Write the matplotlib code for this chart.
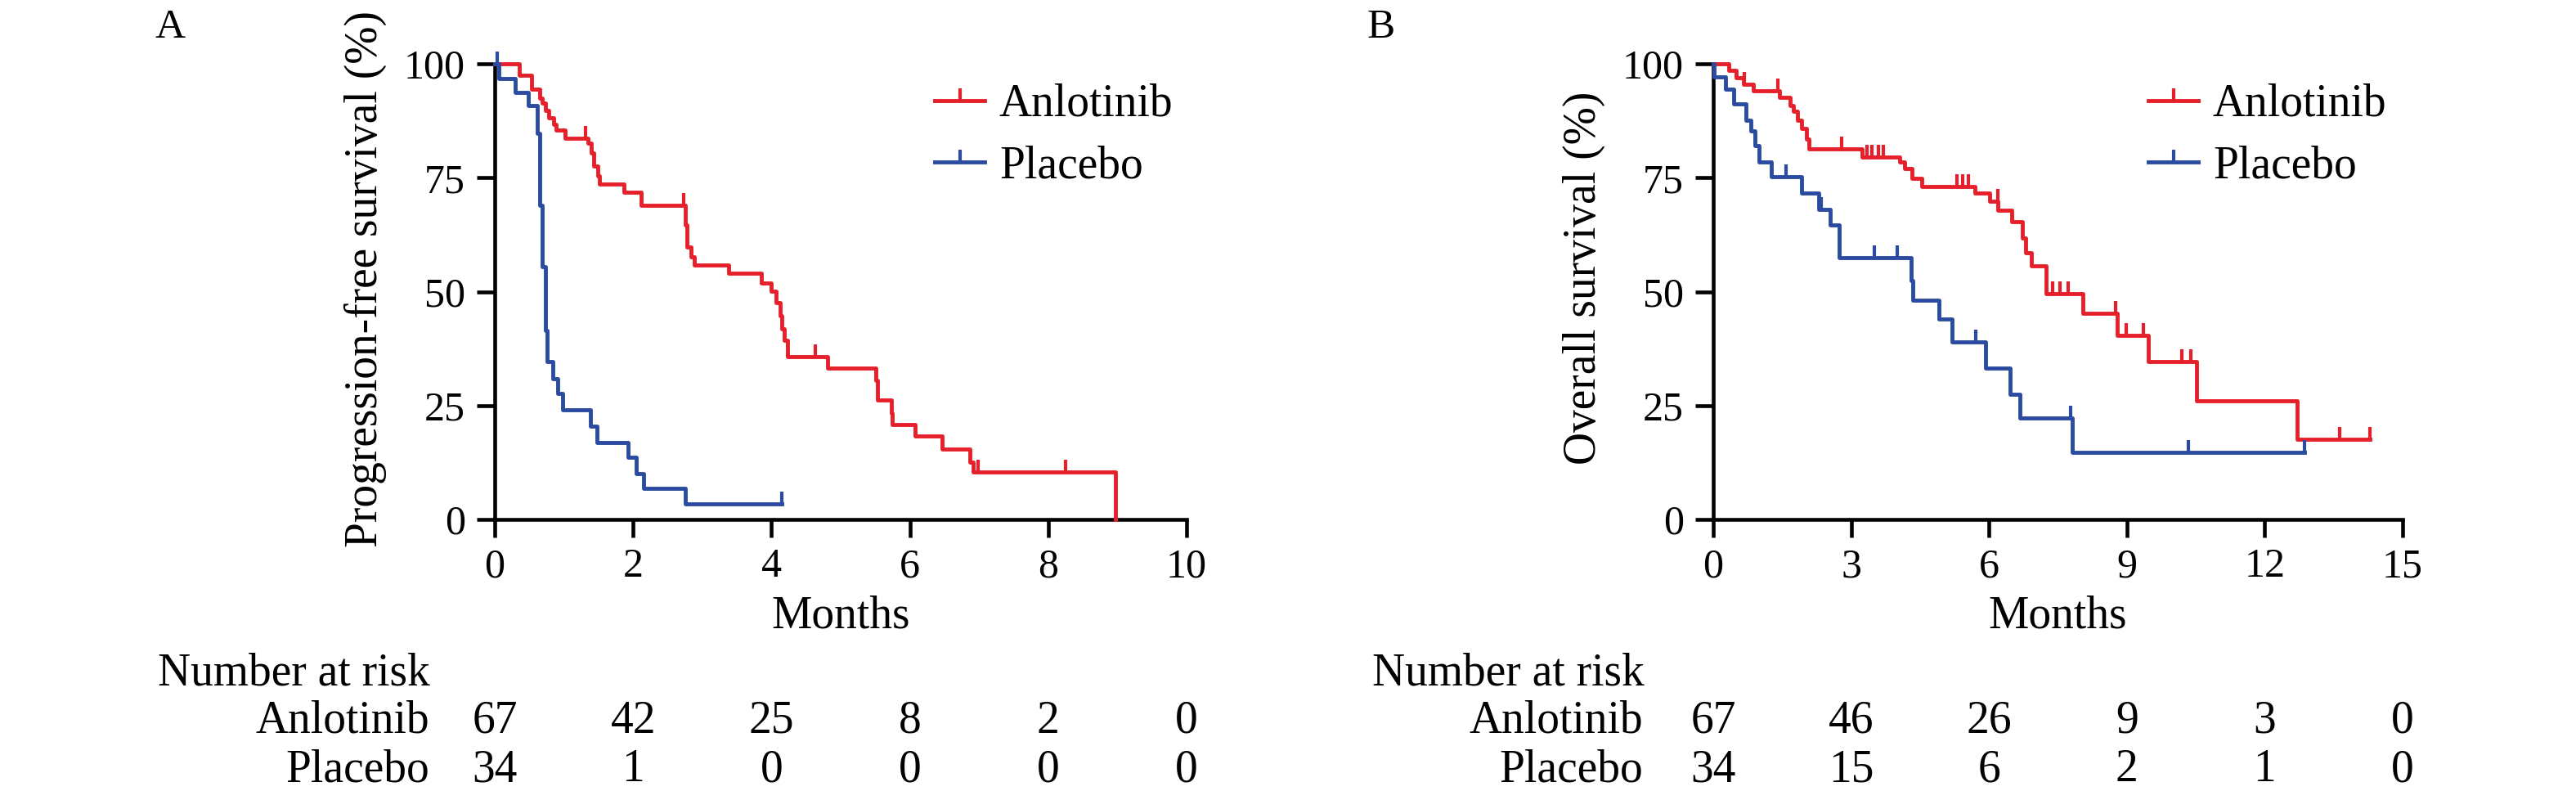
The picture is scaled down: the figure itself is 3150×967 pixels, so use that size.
import matplotlib.pyplot as plt
import matplotlib.transforms as mtransforms

plt.rcParams['font.family'] = ['Liberation Serif', 'DejaVu Serif']

red = "#E5202A"
blue = "#2A4BA0"

# ---- panel A : progression-free survival ----
pfs_anl_t = [0, 0.36, 0.53, 0.65, 0.68, 0.73, 0.78, 0.85, 0.89, 1.02, 1.35, 1.40, 1.43,
             1.49, 1.51, 1.87, 2.11, 2.75, 2.78, 2.84, 2.89, 3.38, 3.85, 4.00, 4.07, 4.12,
             4.15, 4.18, 4.23, 4.81, 5.51, 5.53, 5.73, 5.75, 6.07, 6.47, 6.87, 6.91, 8.97]
pfs_anl_s = [100, 97.5, 94.5, 92.5, 91.4, 89.7, 88.2, 86.8, 85.4, 83.6, 82.5, 80.4, 77.5,
             75.4, 73.6, 71.8, 69.0, 64.7, 59.7, 57.6, 55.8, 54.0, 51.9, 50.1, 47.6, 44.7,
             41.9, 39.4, 35.8, 33.3, 30.5, 26.2, 23.3, 20.8, 18.3, 15.5, 12.6, 10.5, 0]
pfs_anl_cens_t = [1.31, 2.73, 4.63, 6.98, 8.25]
pfs_anl_cens_s = [83.6, 69.0, 35.8, 10.5, 10.5]

pfs_pla_t = [0, 0.06, 0.29, 0.49, 0.62, 0.65, 0.69, 0.73, 0.76, 0.84, 0.91, 0.98,
             1.38, 1.48, 1.93, 2.05, 2.15, 2.76, 4.15]
pfs_pla_s = [100, 96.8, 93.7, 90.9, 84.7, 69.0, 55.4, 41.5, 34.7, 30.8, 27.6, 24.0,
             20.5, 16.9, 13.7, 10.1, 6.9, 3.4, 3.4]
pfs_pla_cens_t = [0.03, 4.15]
pfs_pla_cens_s = [100, 3.4]

# ---- panel B : overall survival ----
os_anl_t = [0, 0.33, 0.49, 0.66, 0.88, 1.45, 1.68, 1.75, 1.84, 1.92, 2.03, 2.08, 3.23,
            4.05, 4.16, 4.33, 4.54, 5.69, 6.02, 6.19, 6.49, 6.73, 6.79, 6.92, 7.25, 8.05,
            8.79, 9.47, 10.51, 12.70, 14.29]
os_anl_s = [100, 98.5, 97.0, 95.5, 94.1, 92.7, 90.9, 89.5, 87.7, 85.9, 83.4, 81.3, 79.5,
            78.4, 77.0, 74.9, 73.1, 71.7, 69.9, 67.8, 65.3, 61.7, 58.5, 55.7, 49.6, 45.3,
            40.4, 34.7, 26.1, 17.6, 17.6]
os_anl_cens_t = [0.68, 1.40, 2.79, 3.34, 3.45, 3.59, 3.70, 5.31, 5.42, 5.55, 6.19,
                 7.39, 7.55, 7.72, 8.76, 8.98, 9.36, 10.2, 10.4, 13.63, 14.29]
os_anl_cens_s = [95.5, 94.1, 81.3, 79.5, 79.5, 79.5, 79.5, 73.1, 73.1, 73.1, 69.9,
                 49.6, 49.6, 49.6, 45.3, 40.4, 40.4, 34.7, 34.7, 17.6, 17.6]

os_pla_t = [0, 0.02, 0.27, 0.44, 0.71, 0.82, 0.90, 0.99, 1.26, 1.92, 2.30, 2.54, 2.74,
            4.30, 4.35, 4.91, 5.20, 5.93, 6.46, 6.68, 7.81, 12.87]
os_pla_s = [100, 97.1, 94.4, 91.2, 87.7, 85.2, 82.0, 78.4, 75.2, 71.7, 68.1, 64.6, 57.4,
            52.5, 48.2, 43.9, 38.9, 33.2, 27.5, 22.2, 14.7, 14.7]
os_pla_cens_t = [1.59, 2.35, 3.50, 4.00, 5.72, 7.77, 10.33, 12.87]
os_pla_cens_s = [75.2, 68.1, 57.4, 57.4, 38.9, 22.2, 14.7, 14.7]

# number at risk tables
risk_t_A = [0, 2, 4, 6, 8, 10]
risk_anl_A = [67, 42, 25, 8, 2, 0]
risk_pla_A = [34, 1, 0, 0, 0, 0]
risk_t_B = [0, 3, 6, 9, 12, 15]
risk_anl_B = [67, 46, 26, 9, 3, 0]
risk_pla_B = [34, 15, 6, 2, 1, 0]

W, H = 3150, 967
fig = plt.figure(figsize=(W / 100, H / 100), dpi=100)

tick_up = [(0, 0), (0, 1)]  # censor mark pointing up
lw = 3.5


def km_panel(ax, a_t, a_s, a_ct, a_cs, p_t, p_s, p_ct, p_cs, xmax, xstep, ylab):
    ax.step(a_t, a_s, where="post", color=red, lw=lw, clip_on=False, zorder=3)
    ax.step(p_t, p_s, where="post", color=blue, lw=lw, clip_on=False, zorder=3)
    ax.plot(a_ct, a_cs, ls="none", marker=tick_up, ms=22, mew=3, color=red, clip_on=False, zorder=3)
    ax.plot(p_ct, p_cs, ls="none", marker=tick_up, ms=22, mew=3, color=blue, clip_on=False, zorder=3)
    # legend handles
    ax.plot([], [], color=red, lw=lw, marker=tick_up, ms=22, mew=3, label="Anlotinib")
    ax.plot([], [], color=blue, lw=lw, marker=tick_up, ms=22, mew=3, label="Placebo")
    ax.set_xlim(0, xmax)
    ax.set_ylim(0, 100)
    ax.set_xticks(range(0, xmax + 1, xstep))
    ax.set_yticks([0, 25, 50, 75, 100])
    for s in ["top", "right"]:
        ax.spines[s].set_visible(False)
    for s in ["left", "bottom"]:
        ax.spines[s].set_linewidth(3.3)
    ax.tick_params(axis="both", length=16, width=3.3, labelsize=36)
    ax.tick_params(axis="x", pad=9)
    ax.tick_params(axis="y", pad=10)
    ax.set_xlabel("Months", fontsize=40, labelpad=8)
    ax.set_ylabel(ylab, fontsize=40)
    ax.yaxis.set_label_coords(-0.156, 0.528)


axA = fig.add_axes([605 / W, 1 - 635 / H, 846 / W, 557 / H])
km_panel(axA, pfs_anl_t, pfs_anl_s, pfs_anl_cens_t, pfs_anl_cens_s,
         pfs_pla_t, pfs_pla_s, pfs_pla_cens_t, pfs_pla_cens_s,
         10, 2, "Progression-free survival (%)")
axB = fig.add_axes([2095 / W, 1 - 635 / H, 843 / W, 557 / H])
km_panel(axB, os_anl_t, os_anl_s, os_anl_cens_t, os_anl_cens_s,
         os_pla_t, os_pla_s, os_pla_cens_t, os_pla_cens_s,
         15, 3, "Overall survival (%)")
axB.yaxis.set_label_coords(-0.157, 0.53)

for ax, lx in [(axA, 1143), (axB, 2627)]:
    ax.legend(loc="upper left", bbox_to_anchor=(lx / W, 1 - 102 / H), bbox_transform=fig.transFigure,
              frameon=False, fontsize=40, handlelength=1.1, handletextpad=0.32,
              labelspacing=0.42, borderpad=0, borderaxespad=0, numpoints=1)

# panel letters
fig.text(190 / W, 1 - 46 / H, "A", fontsize=37, va="baseline")
fig.text(1672 / W, 1 - 46 / H, "B", fontsize=37, va="baseline")

# number at risk
for ax, lab_left, lab_right, rt, ra, rp in [(axA, 193, 525, risk_t_A, risk_anl_A, risk_pla_A),
                                            (axB, 1678, 2009, risk_t_B, risk_anl_B, risk_pla_B)]:
    fig.text(lab_left / W, 1 - 837 / H, "Number at risk", fontsize=40, va="baseline")
    fig.text(lab_right / W, 1 - 896 / H, "Anlotinib", fontsize=40, va="baseline", ha="right")
    fig.text(lab_right / W, 1 - 955 / H, "Placebo", fontsize=40, va="baseline", ha="right")
    trans = mtransforms.blended_transform_factory(ax.transData, fig.transFigure)
    for x, a, p in zip(rt, ra, rp):
        fig.text(x, 1 - 896 / H, str(a), fontsize=40, va="baseline", ha="center", transform=trans)
        fig.text(x, 1 - 955 / H, str(p), fontsize=40, va="baseline", ha="center", transform=trans)

fig.savefig("out.png", dpi=100)
